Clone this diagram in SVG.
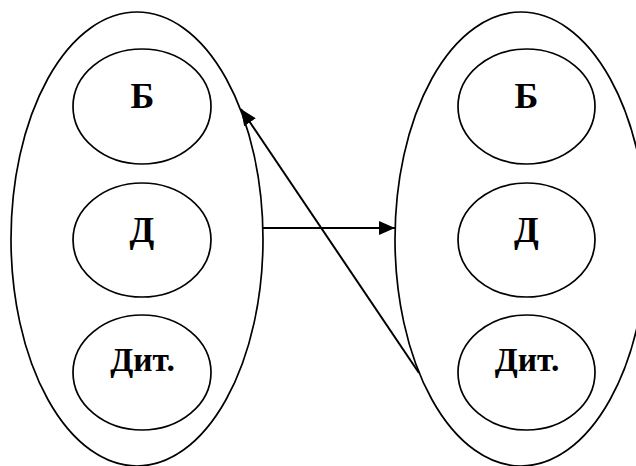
<svg xmlns="http://www.w3.org/2000/svg" width="636" height="466" viewBox="0 0 636 466">
<defs>
<style>
.big{fill:none;stroke:#000;stroke-width:1.7}
.small{fill:none;stroke:#000;stroke-width:1.7}
.lbl{font-family:"Liberation Serif","Times New Roman",serif;font-weight:bold;font-size:36px;text-anchor:middle;fill:#000}
.lbl2{font-family:"Liberation Serif","Times New Roman",serif;font-weight:bold;font-size:33.5px;text-anchor:middle;fill:#000}
.conn{fill:none;stroke:#000;stroke-width:2}
</style>
<marker id="ah" markerUnits="userSpaceOnUse" markerWidth="16" markerHeight="14" refX="16" refY="7" orient="auto">
<path d="M0,0 L16,7 L0,14 z" fill="#000"/>
</marker>
</defs>
<rect width="636" height="466" fill="#fff"/>
<g id="left-group">
<ellipse class="big" cx="137" cy="239" rx="126" ry="227"/>
</g>
<g id="right-group">
<ellipse class="big" cx="521" cy="239" rx="126" ry="227"/>
</g>
<g id="left-b"><ellipse class="small" cx="142" cy="106.5" rx="69" ry="57.5"/><text class="lbl" x="142.5" y="108">Б</text></g>
<g id="left-d"><ellipse class="small" cx="142" cy="240" rx="69" ry="57"/><text class="lbl" x="142" y="242">Д</text></g>
<g id="left-dit"><ellipse class="small" cx="142" cy="372.5" rx="69" ry="57.5"/><text class="lbl2" x="142.5" y="371">Дит.</text></g>
<g id="right-b"><ellipse class="small" cx="526.5" cy="106.5" rx="68.5" ry="57.5"/><text class="lbl" x="526.5" y="108">Б</text></g>
<g id="right-d"><ellipse class="small" cx="526.5" cy="240" rx="68.5" ry="57"/><text class="lbl" x="526.5" y="242">Д</text></g>
<g id="right-dit"><ellipse class="small" cx="526.5" cy="372.5" rx="68.5" ry="57.5"/><text class="lbl2" x="527" y="371">Дит.</text></g>
<g id="connectors">
<line class="conn" x1="263" y1="228" x2="395" y2="228" marker-end="url(#ah)"/>
<line class="conn" x1="419" y1="373" x2="241" y2="109" marker-end="url(#ah)"/>
</g>
</svg>
